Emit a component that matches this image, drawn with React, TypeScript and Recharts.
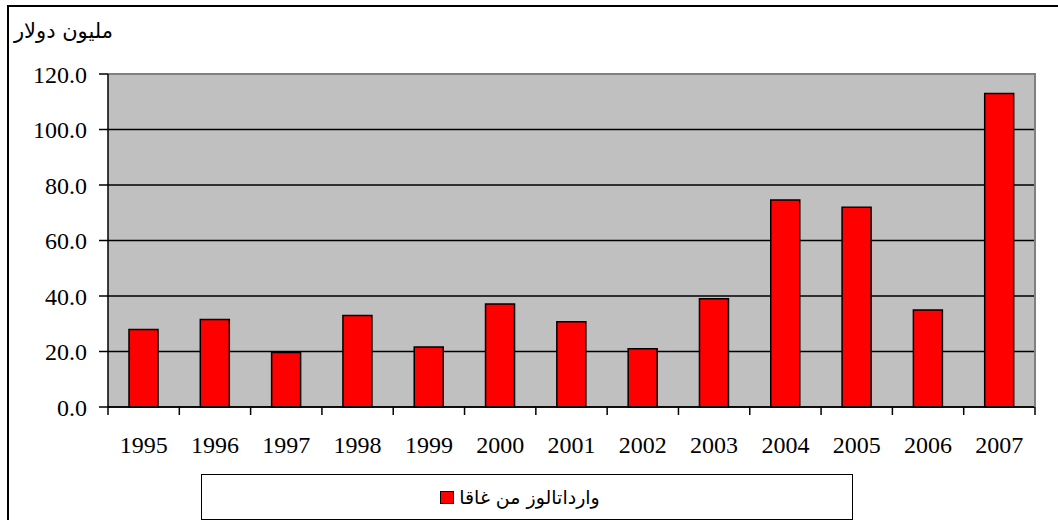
import {
  Bar,
  BarChart,
  CartesianGrid,
  ReferenceLine,
  XAxis,
  YAxis,
} from "recharts";

const YEARS = [
  "1995", "1996", "1997", "1998", "1999", "2000", "2001",
  "2002", "2003", "2004", "2005", "2006", "2007",
];
const IMPORTS = [
  27.9, 31.5, 19.6, 33.0, 21.6, 37.1, 30.7, 21.0, 39.0, 74.6, 72.0, 35.0, 113.0,
];
const Y_TICKS = [0, 20, 40, 60, 80, 100, 120];
const SERIES_NAME = "وارداتالوز من غاقا";
const Y_TITLE = "مليون دولار";

const BAR_FILL = "#ff0000";
const PLOT_BG = "#c0c0c0";
const PLOT_EDGE = "#808080";
const SERIF = "'Liberation Serif', 'Times New Roman', 'DejaVu Serif', serif";
const ARABIC = "'DejaVu Sans', 'Liberation Sans', sans-serif";

const LABEL_GAP = 29; // px between x axis line and the year labels

const data = YEARS.map((year, i) => ({ year, value: IMPORTS[i] }));

// Excel style: year label under the bar, tick marks on the category boundaries
function YearTick(props: any) {
  const { x, y, payload, index, visibleTicksCount } = props;
  const half = payload?.offset ?? 0;
  const axisY = y - LABEL_GAP;
  const isLast = index === visibleTicksCount - 1;
  return (
    <g>
      {half > 0 && (
        <line x1={x - half} x2={x - half} y1={axisY} y2={axisY + 8} stroke="#000" strokeWidth={1.5} />
      )}
      {half > 0 && isLast && (
        <line x1={x + half} x2={x + half} y1={axisY} y2={axisY + 8} stroke="#000" strokeWidth={1.5} />
      )}
      <text
        x={x}
        y={y}
        dy="0.71em"
        textAnchor="middle"
        fontSize={24}
        fill="#000"
        fontFamily={SERIF}
        style={{ fontFamily: SERIF }}
      >
        {payload.value}
      </text>
    </g>
  );
}

function ValueTick(props: any) {
  const { x, y, payload } = props;
  return (
    <text
      x={x}
      y={y}
      dy="0.355em"
      textAnchor="end"
      fontSize={24}
      fill="#000"
      fontFamily={SERIF}
      style={{ fontFamily: SERIF }}
    >
      {Number(payload.value).toFixed(1)}
    </text>
  );
}

export default function App() {
  return (
    <div
      style={{
        position: "absolute",
        left: 0,
        top: 0,
        width: 1058,
        height: 520,
        overflow: "hidden",
        background: "#fff",
        fontFamily: SERIF,
      }}
    >
      {/* outer chart frame, runs off the right and bottom edges */}
      <div
        style={{
          position: "absolute",
          left: 7,
          top: 5,
          width: 1100,
          height: 600,
          border: "2px solid #000",
        }}
      />

      <div
        dir="rtl"
        style={{
          position: "absolute",
          left: 0,
          top: 19,
          width: 113,
          textAlign: "right",
          fontFamily: ARABIC,
          fontSize: 21,
          lineHeight: "24px",
          color: "#000",
          whiteSpace: "nowrap",
        }}
      >
        {Y_TITLE}
      </div>

      <div style={{ position: "absolute", left: 0, top: 0, fontFamily: SERIF }}>
        <BarChart
          width={1058}
          height={520}
          data={data}
          margin={{ top: 74, right: 23, bottom: 73, left: 0 }}
          style={{ fontFamily: SERIF }}
        >
          <CartesianGrid
            fill={PLOT_BG}
            fillOpacity={1}
            vertical={false}
            stroke="#000"
            strokeWidth={1.5}
          />
          <XAxis
            dataKey="year"
            height={40}
            axisLine={{ stroke: "#000", strokeWidth: 1.5 }}
            tickLine={false}
            tickSize={0}
            tickMargin={LABEL_GAP}
            interval={0}
            tick={YearTick}
          />
          <YAxis
            width={108}
            domain={[0, 120]}
            ticks={Y_TICKS}
            interval={0}
            axisLine={{ stroke: "#000", strokeWidth: 1.5 }}
            tickLine={{ stroke: "#000", strokeWidth: 1.5 }}
            tickSize={9}
            tickMargin={12}
            tick={ValueTick}
          />
          <ReferenceLine y={120} stroke={PLOT_EDGE} strokeWidth={2} />
          <Bar
            dataKey="value"
            name={SERIES_NAME}
            fill={BAR_FILL}
            stroke="#000"
            strokeWidth={1.5}
            barSize={29}
            isAnimationActive={false}
          />
        </BarChart>
      </div>

      {/* right edge of the plot area */}
      <div
        style={{
          position: "absolute",
          left: 1034,
          top: 73,
          width: 2,
          height: 334,
          background: PLOT_EDGE,
        }}
      />

      {/* legend box */}
      <div
        style={{
          position: "absolute",
          left: 201,
          top: 474,
          width: 652,
          height: 46,
          boxSizing: "border-box",
          border: "1.5px solid #000",
          display: "flex",
          alignItems: "center",
          justifyContent: "center",
          paddingRight: 14,
          background: "#fff",
        }}
      >
        <span
          style={{
            display: "inline-block",
            width: 12,
            height: 11,
            background: BAR_FILL,
            border: "1.5px solid #000",
            marginRight: 5,
          }}
        />
        <span
          dir="rtl"
          style={{ fontFamily: ARABIC, fontSize: 19, color: "#000" }}
        >
          {SERIES_NAME}
        </span>
      </div>
    </div>
  );
}
